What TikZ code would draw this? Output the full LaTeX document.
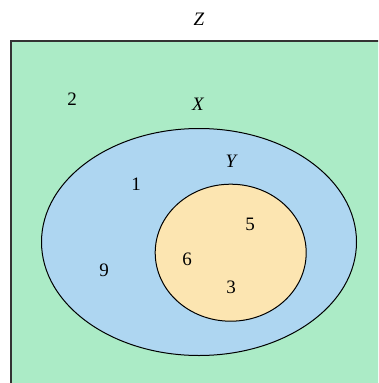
\documentclass[tikz,border=0pt]{standalone}
\usepackage{fontspec}
\setmainfont{Liberation Serif}
\usetikzlibrary{shapes.geometric}
\definecolor{zgreen}{HTML}{ABEBC6}
\definecolor{xblue}{HTML}{AED6F1}
\definecolor{yyellow}{HTML}{FCE5B1}
\begin{document}
\begin{tikzpicture}[x=1pt,y=-1pt,
  lbl/.style={inner sep=0pt,font=\fontsize{19}{22}\selectfont},
  setline/.style={draw=black,line width=1pt}]
\useasboundingbox (0,0) rectangle (378,383);
\clip (0,0) rectangle (378,383);
\fill[white] (0,0) rectangle (378,383);
\node[draw=black!80,line width=1.6pt,fill=zgreen,minimum width=400pt,minimum height=380pt,inner sep=0pt,anchor=north west] (Z) at (10,40) {};
\node[ellipse,setline,fill=xblue,minimum width=315pt,minimum height=227pt,inner sep=0pt] (X) at (199,242) {};
\node[ellipse,setline,fill=yyellow,minimum width=151pt,minimum height=137pt,inner sep=0pt] (Y) at (230.7,252.7) {};
\node[lbl] (zl) at (199,19) {\itshape Z};
\node[lbl] (xl) at (198,104) {\itshape X};
\node[lbl] (yl) at (231,161) {\itshape Y};
\node[lbl] (n2) at (72,99) {2};
\node[lbl] (n1) at (136,184) {1};
\node[lbl] (n9) at (104,270) {9};
\node[lbl] (n5) at (250,224) {5};
\node[lbl] (n6) at (187,259) {6};
\node[lbl] (n3) at (231,287) {3};
\end{tikzpicture}
\end{document}
